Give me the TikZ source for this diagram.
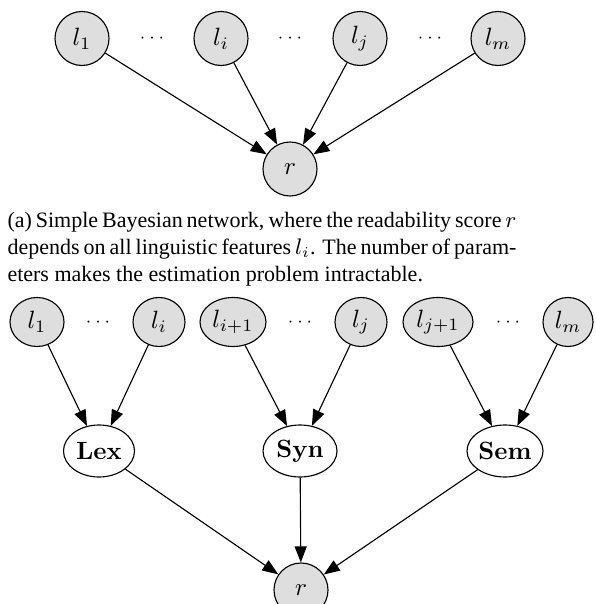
\documentclass[tikz,border=0pt]{standalone}
\usepackage{fontspec}
\usetikzlibrary{arrows.meta,shapes.geometric}
\newfontfamily\capfont{Liberation Serif}
\definecolor{nodegray}{HTML}{DEDEDE}
\tikzset{
  obs/.style={circle,draw,fill=nodegray,line width=0.45pt,minimum size=21.6pt,inner sep=0pt},
  obse/.style={ellipse,draw,fill=nodegray,line width=0.45pt,minimum height=19.6pt,inner sep=0pt},
  hid/.style={ellipse,draw,fill=white,line width=0.45pt,minimum height=20.8pt,inner sep=0pt,font=\bfseries},
  dotsnode/.style={inner sep=0pt,font=\fontsize{7}{8}\selectfont},
  conn/.style={line width=0.45pt,-{Triangle[length=6.4pt,width=4.8pt]}},
}
\begin{document}
\begin{tikzpicture}[x=0.4pt,y=-0.4pt]
\useasboundingbox (0,0) rectangle (595,604);
% (a) simple network
\node[obs] (a1) at (82,38.5) {$l_1$};
\node[dotsnode] (ad1) at (152,38.5) {$\cdots$};
\node[obs] (ai) at (221,38.5) {$l_i$};
\node[dotsnode] (ad2) at (290,38.5) {$\cdots$};
\node[obs] (aj) at (360,38.5) {$l_j$};
\node[dotsnode] (ad3) at (430,38.5) {$\cdots$};
\node[obs] (am) at (498,38.5) {$l_m$};
\node[obs] (ar) at (290,169) {$r$};
\draw[conn] (a1) -- (ar);
\draw[conn] (ai) -- (ar);
\draw[conn] (aj) -- (ar);
\draw[conn] (am) -- (ar);
% caption
\node[anchor=base west,inner sep=0pt,text width=203.6pt,align=justify,
      font=\capfont\fontsize{8.8}{10.8}\selectfont] (cap) at (7,228)
  {(a) Simple Bayesian network, where the readability score $r$\linebreak
   depends on all linguistic features $l_i$. The number of param-\linebreak
   eters makes the estimation problem intractable.};
% (b) hierarchical network
\node[obse,minimum width=21.6pt] (b1) at (37,322) {$l_1$};
\node[dotsnode] (bd1) at (98,322) {$\cdots$};
\node[obse,minimum width=20.8pt] (bi) at (159,322) {$l_i$};
\node[obse,minimum width=26.4pt] (bi1) at (233,322) {$l_{i+1}$};
\node[dotsnode] (bd2) at (300,322) {$\cdots$};
\node[obse,minimum width=20.8pt] (bj) at (361,322) {$l_j$};
\node[obse,minimum width=28pt] (bj1) at (438,322) {$l_{j+1}$};
\node[dotsnode] (bd3) at (508,322) {$\cdots$};
\node[obse,minimum width=20pt] (bm) at (568,322) {$l_m$};
\node[hid,minimum width=28.4pt] (lex) at (99,451) {Lex};
\node[hid,minimum width=29.6pt] (syn) at (300,451) {Syn};
\node[hid,minimum width=30.4pt] (sem) at (505,451) {Sem};
\node[obs] (br) at (301,590) {$r$};
\draw[conn] (b1) -- (lex);
\draw[conn] (bi) -- (lex);
\draw[conn] (bi1) -- (syn);
\draw[conn] (bj) -- (syn);
\draw[conn] (bj1) -- (sem);
\draw[conn] (bm) -- (sem);
\draw[conn] (lex) -- (br);
\draw[conn] (syn) -- (br);
\draw[conn] (sem) -- (br);
\end{tikzpicture}
\end{document}
